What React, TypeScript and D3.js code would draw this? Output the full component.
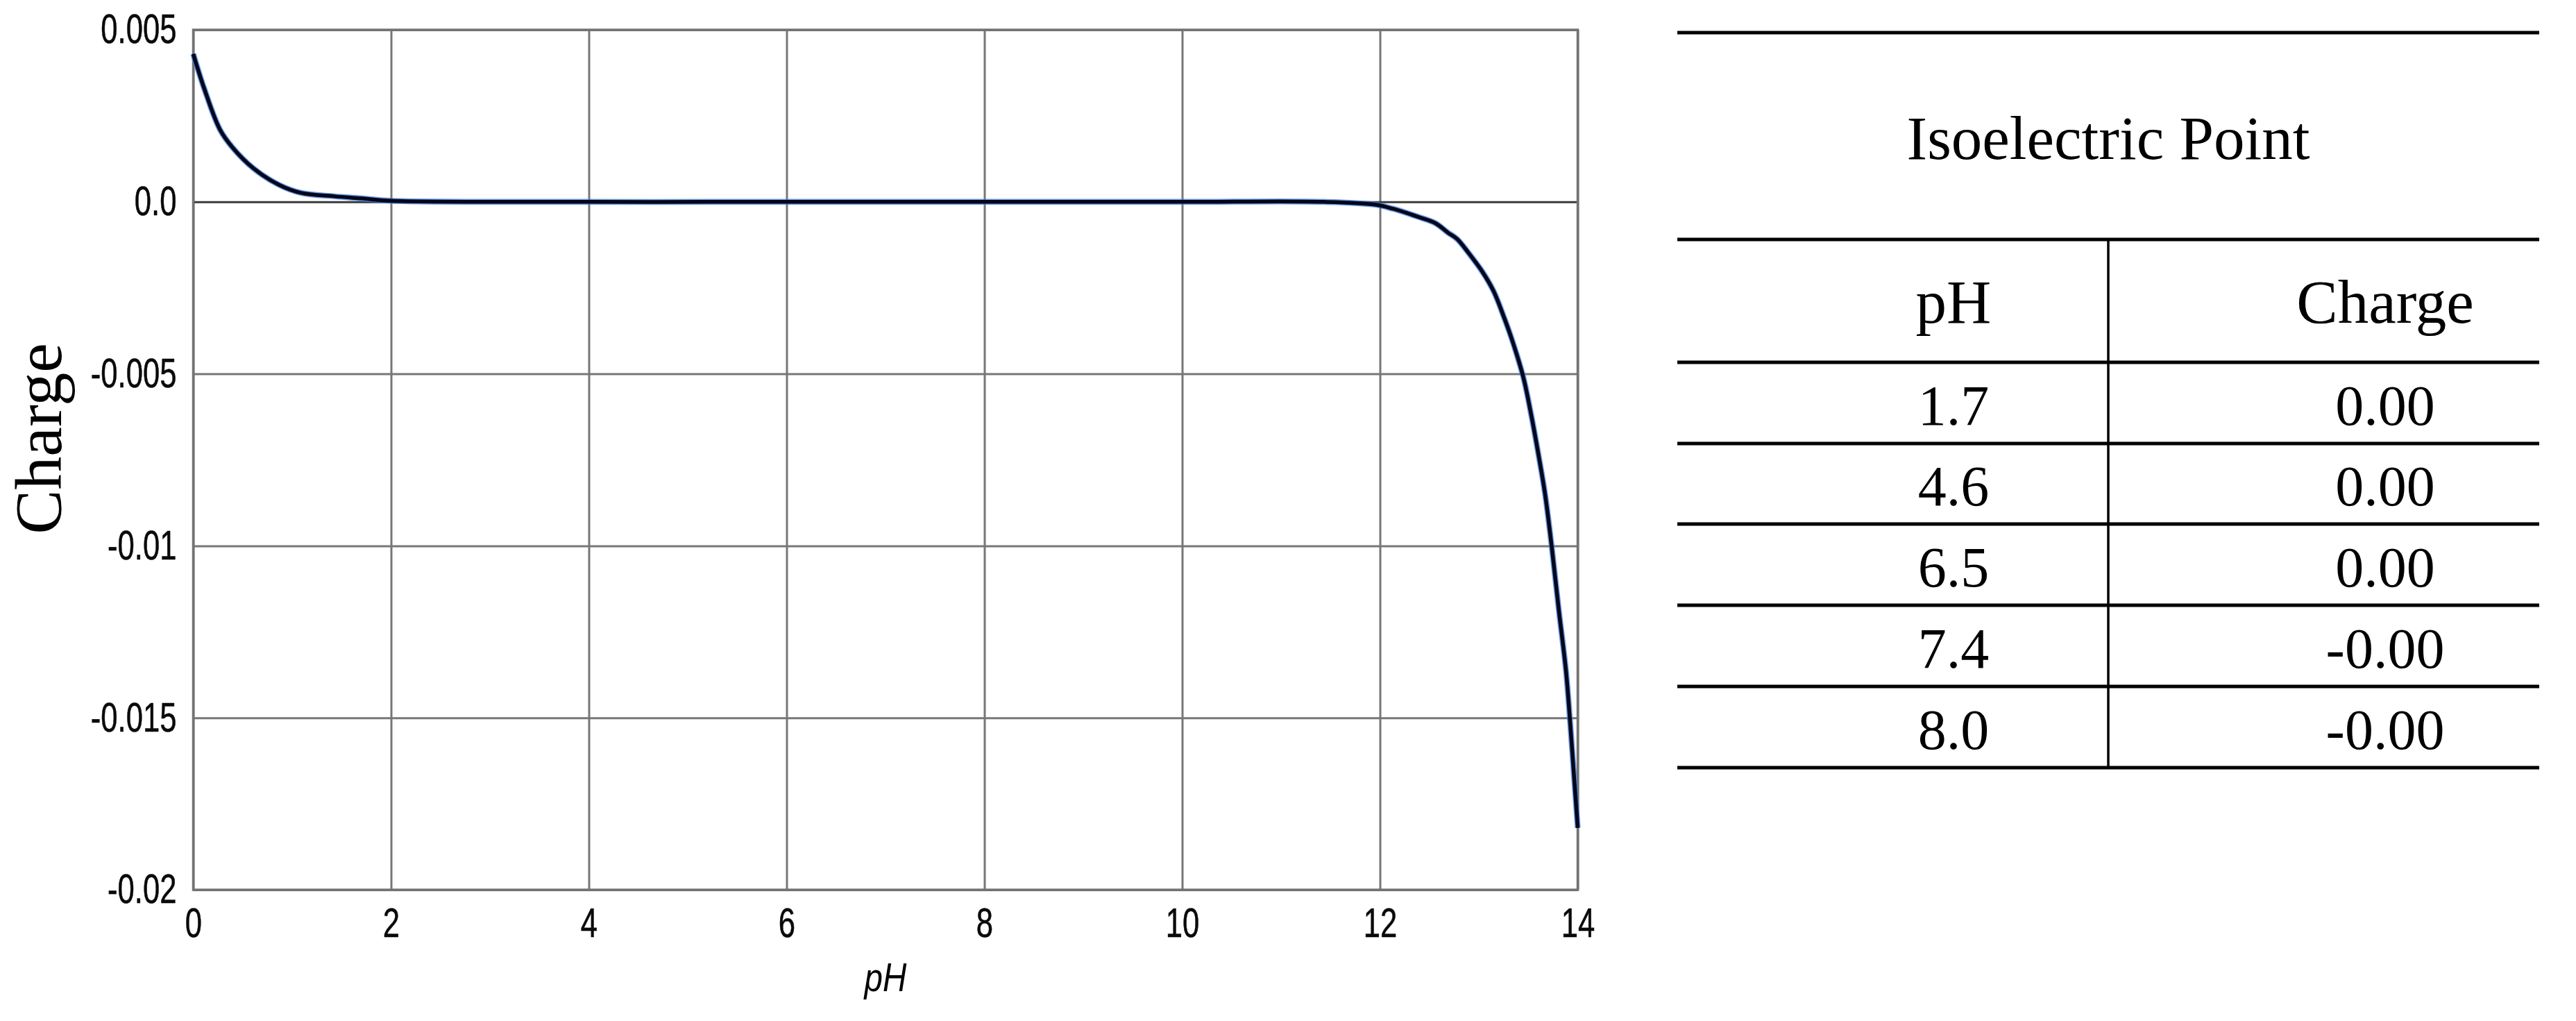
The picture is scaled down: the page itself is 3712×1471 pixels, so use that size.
import React, { useEffect, useRef } from 'react';
import * as d3 from 'd3';

// curve (pH, net charge)
const phValues = [
  0, 0.11, 0.27, 0.4, 0.61, 0.87, 1.09, 1.43, 1.7, 2.0, 4, 6, 8, 10, 11.43, 11.95,
  12.13, 12.4, 12.56, 12.69, 12.78, 12.9, 13.04, 13.15, 13.26, 13.34, 13.45, 13.53, 13.6,
  13.67, 13.74, 13.81, 13.88, 13.92, 13.96, 14.0,
];
const chargeValues = [
  0.0043, 0.0033, 0.0021, 0.00157, 0.00097, 0.00049, 0.00026, 0.00016, 0.0001, 0.00003, 0, 0, 0, 0, 0, -0.00008,
  -0.0002, -0.00045, -0.00062, -0.0009, -0.00108, -0.0015, -0.00205, -0.0026, -0.0034, -0.00405, -0.0051, -0.0062, -0.0073,
  -0.0085, -0.0101, -0.0119, -0.0136, -0.015, -0.0166, -0.0182,
];

const xTicks = [0, 2, 4, 6, 8, 10, 12, 14];
const yTicks = [0.005, 0, -0.005, -0.01, -0.015, -0.02];
const yTickLabels = ['0.005', '0.0', '-0.005', '-0.01', '-0.015', '-0.02'];

// table on the right
const tableTitle = 'Isoelectric Point';
const tableHeaders = ['pH', 'Charge'];
const tablePh = ['1.7', '4.6', '6.5', '7.4', '8.0'];
const tableCharge = ['0.00', '0.00', '0.00', '-0.00', '-0.00'];

const W = 3712;
const H = 1471;

const sans = "'Liberation Sans', Arial, sans-serif";
const serif = "'Liberation Serif', 'Times New Roman', serif";
const squeeze = 0.74; // tick font in the picture is a condensed grotesque

const App = () => {
  const ref = useRef<SVGSVGElement>(null);

  useEffect(() => {
    const svg = d3.select(ref.current);
    svg.selectAll('*').remove();

    // plot area
    const left = 278.5, right = 2273.5, top = 43, bottom = 1282;

    const x = d3.scaleLinear().domain([0, 14]).range([left, right]);
    const y = d3.scaleLinear().domain([-0.02, 0.005]).range([bottom, top]);

    // grid + ticks
    const gx = svg.append('g')
      .attr('transform', `translate(0,${bottom})`)
      .call(d3.axisBottom(x).tickValues(xTicks).tickSize(-(bottom - top)).tickPadding(26).tickFormat(d => `${d}`));
    gx.select('.domain').remove();
    gx.selectAll('line').attr('stroke', '#777').attr('stroke-width', 3);
    gx.selectAll('text')
      .attr('font-family', sans).attr('font-size', 59).attr('fill', '#0a0a0a')
      .attr('stroke', '#0a0a0a').attr('stroke-width', 0.6)
      .attr('transform', `scale(${squeeze},1)`);

    const gy = svg.append('g')
      .attr('transform', `translate(${left},0)`)
      .call(d3.axisLeft(y).tickValues(yTicks).tickSize(-(right - left)).tickPadding(24)
        .tickFormat((d, i) => yTickLabels[i]));
    gy.select('.domain').remove();
    gy.selectAll('line')
      .attr('stroke', d => (d === 0 ? '#3a3a3a' : '#777'))
      .attr('stroke-width', 3);
    gy.selectAll('text')
      .attr('font-family', sans).attr('font-size', 59).attr('fill', '#0a0a0a')
      .attr('stroke', '#0a0a0a').attr('stroke-width', 0.6)
      .attr('x', -24 / squeeze)
      .attr('transform', `scale(${squeeze},1)`);

    svg.append('rect')
      .attr('x', left).attr('y', top)
      .attr('width', right - left).attr('height', bottom - top)
      .attr('fill', 'none').attr('stroke', '#737373').attr('stroke-width', 3.5);

    // charge curve
    const pts: [number, number][] = phValues.map((p, i) => [p, chargeValues[i]]);
    const line = d3.line<[number, number]>()
      .x(d => x(d[0]))
      .y(d => y(d[1]))
      .curve(d3.curveCatmullRom.alpha(0.5));

    svg.append('path').datum(pts)
      .attr('d', line).attr('fill', 'none')
      .attr('stroke', '#3b78d8').attr('stroke-width', 8.5).attr('stroke-opacity', 0.7);
    svg.append('path').datum(pts)
      .attr('d', line).attr('fill', 'none')
      .attr('stroke', '#00071c').attr('stroke-width', 5.5);

    // axis titles
    svg.append('text')
      .attr('transform', `translate(${x(7)},1428) scale(0.82,1)`)
      .attr('text-anchor', 'middle')
      .attr('font-family', sans).attr('font-style', 'italic').attr('font-size', 58)
      .text('pH');

    svg.append('text')
      .attr('transform', 'translate(88,632) rotate(-90)')
      .attr('text-anchor', 'middle')
      .attr('font-family', serif).attr('font-size', 96)
      .text('Charge');

    // table
    const tx0 = 2417, tx1 = 3659, divX = 3038;
    const lineYs = [47, 345, 522, 639, 755, 872, 989, 1106];
    const tbl = svg.append('g');
    tbl.selectAll('line.h')
      .data(lineYs)
      .enter().append('line')
      .attr('class', 'h')
      .attr('x1', tx0).attr('x2', tx1)
      .attr('y1', d => d).attr('y2', d => d)
      .attr('stroke', '#000').attr('stroke-width', 5);
    tbl.append('line')
      .attr('x1', divX).attr('x2', divX)
      .attr('y1', lineYs[1]).attr('y2', lineYs[lineYs.length - 1])
      .attr('stroke', '#000').attr('stroke-width', 3.5);

    tbl.append('text')
      .attr('x', (tx0 + tx1) / 2).attr('y', 229)
      .attr('text-anchor', 'middle')
      .attr('font-family', serif).attr('font-size', 89)
      .text(tableTitle);

    const colX = [2815, 3437];
    tableHeaders.forEach((h, i) => {
      tbl.append('text')
        .attr('x', colX[i]).attr('y', 465)
        .attr('text-anchor', 'middle')
        .attr('font-family', serif).attr('font-size', 89)
        .text(h);
    });

    tablePh.forEach((v, i) => {
      const by = lineYs[i + 3] - 27;
      tbl.append('text')
        .attr('x', colX[0]).attr('y', by)
        .attr('text-anchor', 'middle')
        .attr('font-family', serif).attr('font-size', 82)
        .text(v);
      tbl.append('text')
        .attr('x', colX[1]).attr('y', by)
        .attr('text-anchor', 'middle')
        .attr('font-family', serif).attr('font-size', 82)
        .text(tableCharge[i]);
    });
  }, []);

  return (
    <svg
      ref={ref}
      width={W}
      height={H}
      style={{ position: 'absolute', left: 0, top: 0, background: '#fff' }}
    />
  );
};

export default App;
